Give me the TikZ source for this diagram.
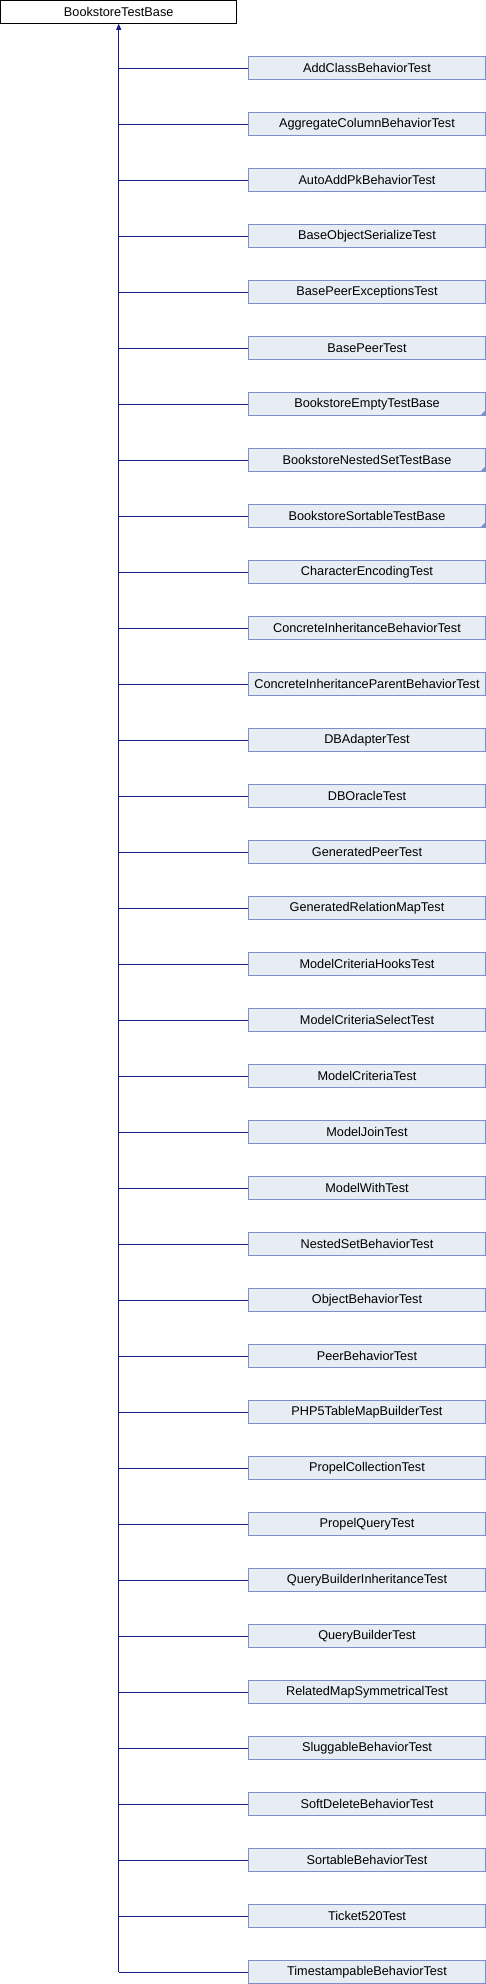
\documentclass[tikz,border=0pt]{standalone}
\usepackage{fontspec}
\setmainfont{Liberation Sans}
\usetikzlibrary{arrows.meta}
\definecolor{boxfill}{RGB}{232,236,245}
\definecolor{boxdraw}{RGB}{122,144,200}
\definecolor{edgecol}{RGB}{25,25,140}
\begin{document}
\begin{tikzpicture}[x=1pt,y=1pt,
  rootbox/.style={draw=black,fill=white,line width=0.9pt,minimum width=236pt,minimum height=23pt,inner sep=0pt,font=\fontsize{12.7}{14}\selectfont},
  kidbox/.style={draw=boxdraw,fill=boxfill,line width=0.9pt,minimum width=237pt,minimum height=22.5pt,inner sep=0pt,font=\fontsize{12.7}{14}\selectfont},
  morekids/.append style={path picture={\fill[boxdraw] (path picture bounding box.south east) -- ++(-5pt,0) -- ++(5pt,5pt) -- cycle;}},
  inherit/.style={draw=edgecol,line width=0.9pt}]
\useasboundingbox (0,0) rectangle (486,-1984);
\node[rootbox] (root) at (118.7,-11.8) {BookstoreTestBase};
\foreach \name [count=\i from 0] in {AddClassBehaviorTest,AggregateColumnBehaviorTest,AutoAddPkBehaviorTest,BaseObjectSerializeTest,BasePeerExceptionsTest,BasePeerTest,BookstoreEmptyTestBase,BookstoreNestedSetTestBase,BookstoreSortableTestBase,CharacterEncodingTest,ConcreteInheritanceBehaviorTest,ConcreteInheritanceParentBehaviorTest,DBAdapterTest,DBOracleTest,GeneratedPeerTest,GeneratedRelationMapTest,ModelCriteriaHooksTest,ModelCriteriaSelectTest,ModelCriteriaTest,ModelJoinTest,ModelWithTest,NestedSetBehaviorTest,ObjectBehaviorTest,PeerBehaviorTest,PHP5TableMapBuilderTest,PropelCollectionTest,PropelQueryTest,QueryBuilderInheritanceTest,QueryBuilderTest,RelatedMapSymmetricalTest,SluggableBehaviorTest,SoftDeleteBehaviorTest,SortableBehaviorTest,Ticket520Test,TimestampableBehaviorTest}{
  \ifnum\i=6 \def\extra{morekids}\else\ifnum\i=7 \def\extra{morekids}\else\ifnum\i=8 \def\extra{morekids}\else\def\extra{}\fi\fi\fi
  \node[kidbox,\extra] (c\i) at (367,{-68-56*\i}) {\name};
  \draw[inherit] (c\i.west) -- (c\i.west -| root.south);
}
\coordinate (trunkend) at (c34.west -| root.south);
\draw[inherit,{Stealth[length=6pt,width=5pt,inset=0pt]}-] (root.south) -- (trunkend);
\end{tikzpicture}
\end{document}
